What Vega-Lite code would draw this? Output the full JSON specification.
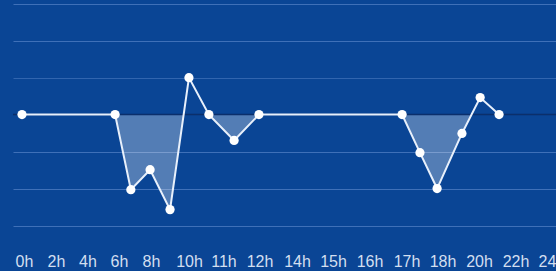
{
  "$schema": "https://vega.github.io/schema/vega-lite/v6.json",
  "width": 543,
  "height": 244,
  "autosize": {"type": "none"},
  "padding": {"left": 13, "top": 0, "right": 0, "bottom": 27},
  "background": "#0a4595",
  "config": {
    "view": {"stroke": null},
    "font": "Liberation Sans",
    "axisX": {"labelOverlap": false, "labelFlush": false, "labelBound": false, "grid": false, "domain": false, "ticks": false, "title": null, "labelFontSize": 16, "labelColor": "#d3dff0", "labelPadding": 9, "labelFont": "Liberation Sans"},
    "axisY": {"grid": true, "gridColor": "#3f70b8", "gridWidth": 1, "labels": false, "ticks": false, "domain": false, "title": null}
  },
  "data": {
    "values": [
      {"x": 0, "v": 0},
      {"x": 2.66, "v": 0},
      {"x": 3.11, "v": -2.03},
      {"x": 3.66, "v": -1.49},
      {"x": 4.23, "v": -2.57},
      {"x": 4.77, "v": 1.0},
      {"x": 5.34, "v": 0},
      {"x": 6.06, "v": -0.7},
      {"x": 6.77, "v": 0},
      {"x": 10.86, "v": 0},
      {"x": 11.37, "v": -1.03},
      {"x": 11.86, "v": -2.0},
      {"x": 12.57, "v": -0.51},
      {"x": 13.09, "v": 0.46},
      {"x": 13.63, "v": 0}
    ]
  },
  "layer": [
    {
      "mark": {"type": "area", "fill": "#ffffff", "fillOpacity": 0.3},
      "encoding": {
        "x": {"field": "x", "type": "quantitative", "scale": {"domain": [-0.257, 15.257], "nice": false, "zero": false},
          "axis": {"values": [0.057, 0.971, 1.871, 2.771, 3.686, 4.771, 5.757, 6.786, 7.857, 8.886, 9.929, 10.986, 12.014, 13.057, 14.1, 15.0], "labelExpr": "['0h','2h','4h','6h','8h','10h','11h','12h','14h','15h','16h','17h','18h','20h','22h','24'][indexof([0.057, 0.971, 1.871, 2.771, 3.686, 4.771, 5.757, 6.786, 7.857, 8.886, 9.929, 10.986, 12.014, 13.057, 14.1, 15.0], datum.value)]"}},
        "y": {"field": "v", "type": "quantitative", "scale": {"domain": [-3.5, 3.1], "nice": false, "zero": false},
          "axis": {"values": [-3,-2,-1,1,2,3]}},
        "y2": {"datum": 0}
      }
    },
    {
      "data": {"values": [{}]},
      "mark": {"type": "rect", "fill": "#0a4595"},
      "encoding": {"y": {"datum": 0}, "y2": {"datum": 0.97}}
    },
    {
      "data": {"values": [{}]},
      "mark": {"type": "rule", "color": "#0b2f6b", "strokeWidth": 1.5},
      "encoding": {"y": {"datum": 0}}
    },
    {
      "mark": {"type": "line", "color": "#e8f0fb", "strokeWidth": 2},
      "encoding": {
        "x": {"field": "x", "type": "quantitative",
          "axis": {"values": [0.057, 0.971, 1.871, 2.771, 3.686, 4.771, 5.757, 6.786, 7.857, 8.886, 9.929, 10.986, 12.014, 13.057, 14.1, 15.0], "labelExpr": "['0h','2h','4h','6h','8h','10h','11h','12h','14h','15h','16h','17h','18h','20h','22h','24'][indexof([0.057, 0.971, 1.871, 2.771, 3.686, 4.771, 5.757, 6.786, 7.857, 8.886, 9.929, 10.986, 12.014, 13.057, 14.1, 15.0], datum.value)]"}},
        "y": {"field": "v", "type": "quantitative", "axis": {"values": [-3,-2,-1,1,2,3]}}
      }
    },
    {
      "mark": {"type": "point", "filled": true, "color": "#ffffff", "opacity": 1, "size": 85, "shape": "circle"},
      "encoding": {
        "x": {"field": "x", "type": "quantitative",
          "axis": {"values": [0.057, 0.971, 1.871, 2.771, 3.686, 4.771, 5.757, 6.786, 7.857, 8.886, 9.929, 10.986, 12.014, 13.057, 14.1, 15.0], "labelExpr": "['0h','2h','4h','6h','8h','10h','11h','12h','14h','15h','16h','17h','18h','20h','22h','24'][indexof([0.057, 0.971, 1.871, 2.771, 3.686, 4.771, 5.757, 6.786, 7.857, 8.886, 9.929, 10.986, 12.014, 13.057, 14.1, 15.0], datum.value)]"}},
        "y": {"field": "v", "type": "quantitative", "axis": {"values": [-3,-2,-1,1,2,3]}}
      }
    }
  ]
}
